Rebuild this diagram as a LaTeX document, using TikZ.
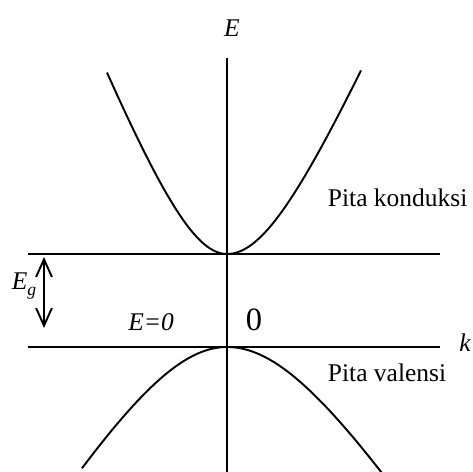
\documentclass[tikz,border=0pt]{standalone}
\usepackage{fontspec}
\setmainfont{Liberation Serif}
\usetikzlibrary{arrows.meta}

\begin{document}
\begin{tikzpicture}[x=0.02cm, y=-0.02cm, line width=1.1pt,
                    band label/.style={font=\fontsize{14.5}{17}\selectfont, inner sep=0pt, anchor=base west},
                    axis label/.style={font=\fontsize{14.5}{17}\selectfont\itshape, inner sep=0pt},
                    gap arrow/.style={{Straight Barb[length=10pt, width=9pt]}-{Straight Barb[length=10pt, width=9pt]}}]
    \useasboundingbox (0,0) rectangle (473,472);

    % sumbu dan garis tepi pita
    \coordinate (Etop) at (227,58);
    \coordinate (Ebot) at (227,472);
    \coordinate (condL) at (28,254);
    \coordinate (condR) at (440,254);
    \coordinate (valL)  at (28,347);
    \coordinate (valR)  at (440,347);

    \draw (Etop)  -- (Ebot);
    \draw (condL) -- (condR);
    \draw (valL)  -- (valR);

    % pita konduksi dan pita valensi
    \draw[domain=-120:0, samples=60, smooth] plot ({227+\x}, {254-165*(sqrt(1+(\x/65)^2)-1)});
    \draw[domain=0:134, samples=60, smooth]  plot ({227+\x}, {254-165*(sqrt(1+(\x/72)^2)-1)});
    \draw[domain=-145:0, samples=60, smooth] plot ({227+\x}, {347+172*(sqrt(1+(\x/105)^2)-1)});
    \draw[domain=0:155, samples=60, smooth]  plot ({227+\x}, {347+172*(sqrt(1+(\x/109.5)^2)-1)});

    % label
    \node[axis label] (Elab)  at (232,28)  {E};
    \node[axis label] (klab)  at (465,343) {k};
    \node[axis label] (Ezero) at (151,322) {E=0};
    \node[font=\fontsize{18.5}{22}\selectfont, inner sep=0pt] (origin) at (254,320) {0};
    \node[band label] (cond) at (327,207) {Pita konduksi};
    \node[band label] (val)  at (327,382) {Pita valensi};

    % celah energi
    \coordinate (gapT) at (44,257);
    \coordinate (gapB) at (44,328);
    \draw[gap arrow] (gapT) -- (gapB);
    \node[axis label] (Eg) at (24,286) {E\raisebox{-0.45ex}{\fontsize{10}{12}\selectfont g}};

\end{tikzpicture}
\end{document}
